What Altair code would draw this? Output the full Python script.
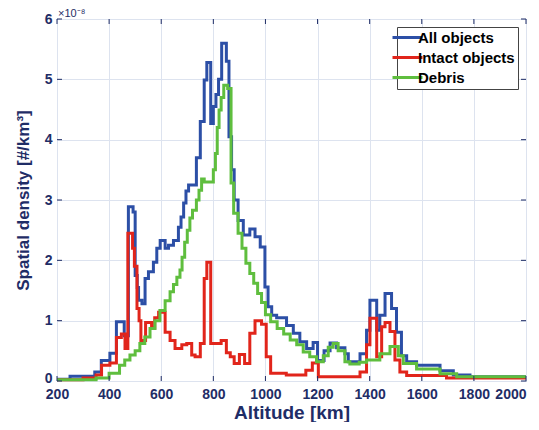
import altair as alt
import pandas as pd

# step-wise spatial density (units of 1e-8 #/km^3), value holds from alt to next alt
all_alt = [200, 250, 345, 370, 403, 428, 458, 474, 492, 500, 508, 513, 526, 538, 551, 570,
           583, 596, 615, 628, 647, 666, 676, 686, 695, 705, 735, 750, 765, 775, 790, 800,
           810, 820, 832, 850, 860, 870, 880, 895, 915, 940, 960, 980, 998, 1010, 1024,
           1043, 1081, 1107, 1132, 1158, 1183, 1200, 1225, 1248, 1273, 1305, 1318, 1363,
           1388, 1401, 1427, 1439, 1459, 1484, 1503, 1522, 1542, 1580, 1670, 1721, 1785]
all_val = [0.03, 0.08, 0.15, 0.34, 0.46, 0.98, 0.75, 2.89, 2.8, 1.75, 1.55, 1.34, 1.28, 1.7,
           1.81, 1.97, 2.2, 2.33, 2.2, 2.25, 2.33, 2.55, 2.72, 2.95, 3.15, 3.25, 3.7, 4.3,
           4.99, 5.28, 4.27, 4.55, 4.75, 5.0, 5.6, 5.3, 4.05, 3.5, 3.0, 2.66, 2.42, 2.52,
           2.39, 2.22, 1.56, 1.23, 1.09, 1.05, 0.92, 0.79, 0.65, 0.54, 0.64, 0.34, 0.5, 0.63,
           0.55, 0.45, 0.32, 0.45, 0.84, 1.34, 0.84, 1.09, 1.45, 1.2, 0.81, 0.42, 0.32, 0.26,
           0.17, 0.1, 0.07]

intact_alt = [200, 300, 350, 371, 403, 428, 447, 461, 472, 490, 497, 507, 515, 522, 540, 563,
              575, 590, 615, 634, 653, 679, 698, 717, 730, 750, 765, 775, 790, 810, 830, 850,
              865, 880, 900, 920, 940, 960, 985, 1003, 1020, 1080, 1155, 1180, 1203, 1363,
              1388, 1401, 1427, 1446, 1459, 1478, 1497, 1516, 1542, 1695]
intact_val = [0.02, 0.05, 0.1, 0.26, 0.3, 0.72, 0.78, 0.54, 2.45, 2.2, 1.9, 1.2, 1.0, 0.67,
              0.97, 0.88, 1.05, 1.14, 0.81, 0.67, 0.54, 0.6, 0.62, 0.43, 0.4, 0.62, 1.7, 1.97,
              0.62, 0.62, 0.67, 0.47, 0.4, 0.29, 0.44, 0.29, 0.79, 1.0, 0.94, 0.4, 0.13, 0.1,
              0.18, 0.3, 0.07, 0.15, 0.6, 1.04, 0.4, 0.9, 0.97, 0.82, 0.35, 0.15, 0.09, 0.05]

debris_alt = [200, 350, 400, 440, 460, 480, 500, 518, 537, 557, 576, 595, 615, 634, 647, 660,
              672, 680, 690, 700, 710, 720, 735, 745, 755, 765, 800, 808, 815, 822, 830, 840,
              855, 868, 878, 895, 910, 925, 940, 955, 970, 985, 1000, 1020, 1045, 1070, 1095,
              1120, 1145, 1170, 1196, 1222, 1241, 1260, 1279, 1305, 1324, 1360, 1388, 1439,
              1478, 1510, 1529, 1580, 1670, 1734]
debris_val = [0.02, 0.05, 0.13, 0.26, 0.35, 0.43, 0.5, 0.62, 0.73, 0.87, 1.0, 1.17, 1.33,
              1.48, 1.6, 1.72, 1.84, 2.05, 2.3, 2.5, 2.7, 2.83, 3.0, 3.16, 3.35, 3.3, 3.5,
              3.77, 4.2, 4.49, 4.7, 4.9, 4.85, 3.28, 2.78, 2.45, 2.2, 1.95, 1.78, 1.62, 1.45,
              1.3, 1.1, 0.98, 0.87, 0.78, 0.68, 0.6, 0.48, 0.4, 0.32, 0.42, 0.56, 0.62, 0.5,
              0.32, 0.28, 0.31, 0.35, 0.45, 0.57, 0.42, 0.29, 0.2, 0.12, 0.07]

series = ["All objects", "Intact objects", "Debris"]
colors = ["#2c4fa6", "#e1251b", "#5fbe3e"]
x_ticks = list(range(200, 2001, 200))
y_ticks = [0, 1, 2, 3, 4, 5, 6]
exponent = ["×10⁻⁸"]

NAVY = "#1f2d66"
FONT = "Liberation Sans"
W, H = 469, 362


def steps(name, alts, vals):
    d = pd.DataFrame({"alt": alts + [2000], "val": vals + [vals[-1]]})
    d["series"] = name
    d["order"] = range(len(d))
    return d


frames = [steps(series[0], all_alt, all_val),
          steps(series[1], intact_alt, intact_val),
          steps(series[2], debris_alt, debris_val)]

xs = alt.Scale(domain=[200, 2000], nice=False)
ys = alt.Scale(domain=[0, 6], nice=False)
cs = alt.Scale(domain=series, range=colors)

# last x label would run off the page, so right-align that one only
last_align = {"condition": {"test": "datum.value == 2000", "value": "right"}, "value": "center"}
# lift the y "0" a little so it clears the "200" below it
zero_lift = {"condition": {"test": "datum.value == 0", "value": -3}, "value": 0}

layers = []
for d in frames:
    layers.append(
        alt.Chart(d).mark_line(interpolate="step-after", strokeWidth=3).encode(
            x=alt.X("alt:Q", scale=xs,
                    axis=alt.Axis(values=x_ticks, title="Altitude [km]", format="d",
                                  labelFlush=False, labelAlign=last_align)),
            y=alt.Y("val:Q", scale=ys,
                    axis=alt.Axis(values=y_ticks, title="Spatial density [#/km³]",
                                  format="d", labelFlush=False, labelOffset=zero_lift)),
            color=alt.Color("series:N", scale=cs, legend=alt.Legend(
                title=None, orient="top-right", offset=8,
                symbolType="M-3,0H3", symbolSize=100, symbolStrokeWidth=3,
                labelFontSize=15, labelFontWeight="bold", labelFont=FONT,
                labelColor="black", strokeColor="#444444", fillColor="white",
                padding=3, rowPadding=4, labelOffset=3)),
            order="order:Q",
        )
    )

# inward tick marks on all four sides
xt = pd.DataFrame({"alt": x_ticks})
yt = pd.DataFrame({"val": y_ticks})
tick_bot = alt.Chart(xt).mark_rule(color=NAVY).encode(x="alt:Q", y=alt.value(H), y2=alt.value(H - 5))
tick_top = alt.Chart(xt).mark_rule(color=NAVY).encode(x="alt:Q", y=alt.value(0), y2=alt.value(5))
tick_lft = alt.Chart(yt).mark_rule(color=NAVY).encode(y="val:Q", x=alt.value(0), x2=alt.value(5))
tick_rgt = alt.Chart(yt).mark_rule(color=NAVY).encode(y="val:Q", x=alt.value(W), x2=alt.value(W - 5))

# exponent note above the y axis
expo = alt.Chart(pd.DataFrame({"t": exponent})).mark_text(
    align="left", baseline="alphabetic", font=FONT, fontSize=11, color=NAVY
).encode(text="t:N", x=alt.value(1), y=alt.value(-2))

chart = alt.layer(*layers, tick_bot, tick_top, tick_lft, tick_rgt, expo).properties(
    width=W, height=H,
    autosize=alt.AutoSizeParams(type="none"),
    padding={"left": 49, "top": 11, "right": 5, "bottom": 41},
).configure_view(
    stroke=NAVY, strokeWidth=1
).configure_axis(
    grid=True, gridColor="#dde3ef", gridWidth=1,
    domain=False, ticks=False,
    labelFont=FONT, labelFontSize=14, labelFontWeight="bold", labelColor=NAVY,
    titleFont=FONT, titleFontWeight="bold", titleColor=NAVY,
).configure_axisX(
    labelPadding=6, titleFontSize=19, titlePadding=2,
).configure_axisY(
    labelPadding=5, titleFontSize=17, titlePadding=12,
)

chart.save("out.html", embed_options={"renderer": "svg", "actions": False})
